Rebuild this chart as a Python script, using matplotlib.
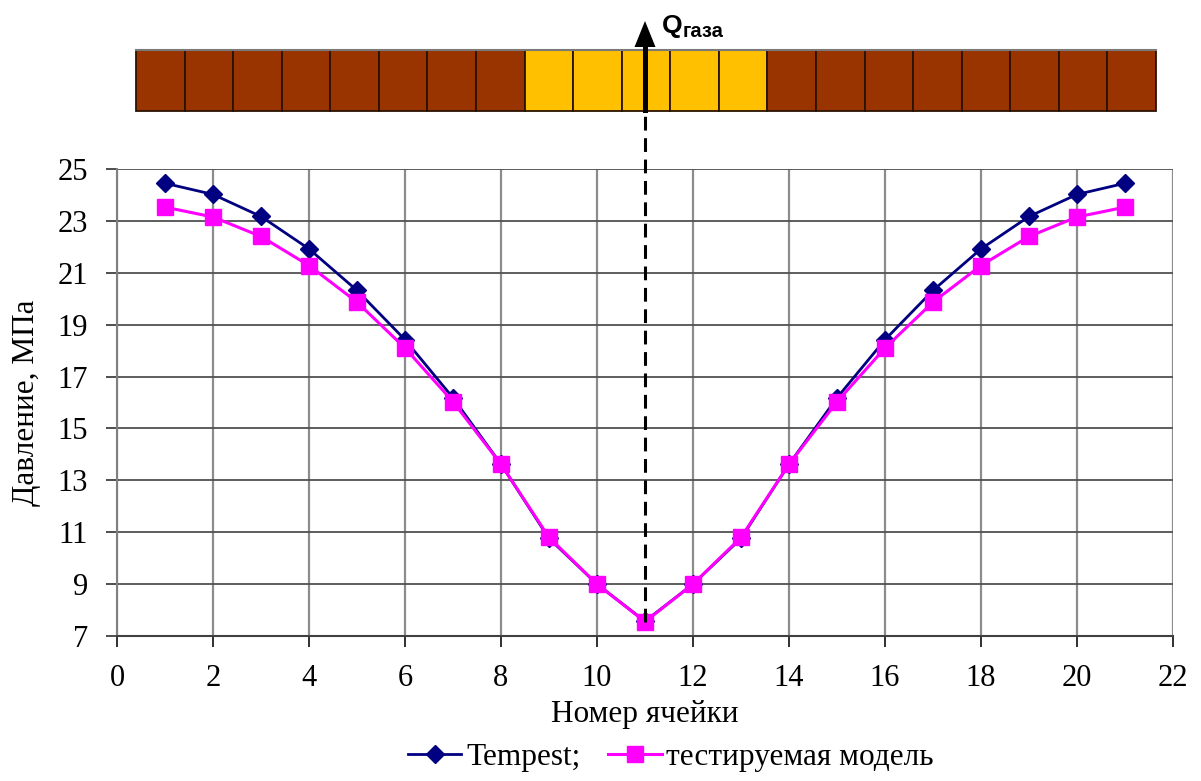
import matplotlib
matplotlib.use("Agg")
import matplotlib.pyplot as plt
from matplotlib.patches import Rectangle, Polygon
import numpy as np

# ---- data ----
cells = list(range(1, 22))
tempest = [24.45, 24.02, 23.17, 21.92, 20.32, 18.42, 16.18, 13.62, 10.76, 9.0, 7.57,
           9.0, 10.76, 13.62, 16.18, 18.42, 20.32, 21.92, 23.17, 24.02, 24.45]
model = [23.53, 23.15, 22.4, 21.28, 19.87, 18.1, 16.03, 13.62, 10.8, 9.0, 7.55,
         9.0, 10.8, 13.62, 16.03, 18.1, 19.87, 21.28, 22.4, 23.15, 23.53]
cell_type = ["rock"] * 8 + ["gas"] * 5 + ["rock"] * 8
x_ticks = list(range(0, 23, 2))
y_ticks = list(range(7, 26, 2))
well_cell = 11

W, H = 1201, 781
fig = plt.figure(figsize=(W / 100, H / 100), dpi=100)
serif = ["Liberation Serif", "DejaVu Serif"]
sans = ["Liberation Sans", "DejaVu Sans"]

def fx(px):
    return px / W

def fy(py):
    return 1 - py / H

# main axes
ax = fig.add_axes([fx(117), fy(636), fx(1173) - fx(117), fy(169) - fy(636)])
ax.set_xlim(0, 22)
ax.set_ylim(7, 25)
ax.set_xticks(x_ticks)
ax.set_yticks(y_ticks)
for s in ["top", "right"]:
    ax.spines[s].set_visible(False)
ax.spines["left"].set_color("#808080")
ax.spines["left"].set_linewidth(1.5)
ax.spines["bottom"].set_color("#404040")
ax.spines["bottom"].set_linewidth(1.5)
ax.xaxis.grid(True, color="#8c8c8c", lw=1.6)
ax.yaxis.grid(True, color="#505050", lw=1.3)
ax.set_axisbelow(True)
ax.tick_params(axis="x", direction="out", length=8, width=1.3, color="#202020",
               labelsize=22, pad=12.5)
ax.tick_params(axis="y", direction="out", length=8, width=1.3, color="#404040",
               labelsize=22, pad=13)
for lab in ax.get_xticklabels() + ax.get_yticklabels():
    lab.set_fontfamily(serif)

l1, = ax.plot(cells, tempest, color="#000080", lw=2.0, marker="D", ms=9,
              markerfacecolor="#000080", markeredgecolor="#000080", zorder=3,
              clip_on=False)
l2, = ax.plot(cells, model, color="#FF00FF", lw=2.2, marker="s", ms=11,
              markerfacecolor="#FF00FF", markeredgecolor="#FF00FF", zorder=4,
              clip_on=False)

ax.set_xlabel("Номер ячейки", fontsize=22.5, fontfamily=serif, labelpad=4.5)
ax.set_ylabel("Давление, МПа", fontsize=22.5, fontfamily=serif, labelpad=12)

leg = fig.legend([l1, l2], ["Tempest;", "тестируемая модель"],
                 loc="center", bbox_to_anchor=(fx(671), fy(757)), ncol=2,
                 frameon=False, prop={"family": serif, "size": 22.5},
                 handlelength=1.7, handletextpad=0.15, columnspacing=0.9,
                 borderpad=0, borderaxespad=0)

# dashed line from the bar down to the minimum point
y_top_px = 116
y_top_data = ax.transData.inverted().transform(
    fig.transFigure.transform((0, fy(y_top_px))))[1]
ax.plot([well_cell, well_cell], [min(model), y_top_data], color="black", lw=2.2,
        ls=(0, (4.5, 2.5)), clip_on=False, zorder=5)

# top bar of cells
bar_left, bar_right, bar_top, bar_bot = 136, 1156, 50, 111
bax = fig.add_axes([fx(bar_left), fy(bar_bot), fx(bar_right) - fx(bar_left),
                    fy(bar_top) - fy(bar_bot)])
bax.set_xlim(0, len(cell_type))
bax.set_ylim(0, 1)
bax.axis("off")
colors = {"rock": "#993300", "gas": "#FFC000"}
for i, t in enumerate(cell_type):
    bax.add_patch(Rectangle((i, 0), 1, 1, facecolor=colors[t], edgecolor="#2b1200",
                            lw=1.3, clip_on=False))
bax.plot([0, len(cell_type)], [1, 1], color="#7a7a7a", lw=1.5, clip_on=False)

# arrow (Q gas)
ax_x_px = 117 + well_cell * (1173 - 117) / 22
shaft_w = 5
shaft = Rectangle((fx(ax_x_px - shaft_w / 2), fy(113)), fx(shaft_w), fy(46) - fy(113),
                  transform=fig.transFigure, facecolor="black", edgecolor="none", zorder=10)
fig.add_artist(shaft)
head = Polygon([(fx(ax_x_px - 10.5), fy(47)), (fx(ax_x_px + 10.5), fy(47)),
                (fx(ax_x_px), fy(21))], closed=True, transform=fig.transFigure,
               facecolor="black", edgecolor="none", zorder=10)
fig.add_artist(head)

fig.text(fx(662), fy(33), "Q", fontsize=19, fontweight="bold", fontfamily=sans,
         va="baseline", ha="left")
fig.text(fx(683), fy(37), "газа", fontsize=14.5, fontweight="bold", fontfamily=sans,
         va="baseline", ha="left")

fig.savefig("out.png", dpi=100)
